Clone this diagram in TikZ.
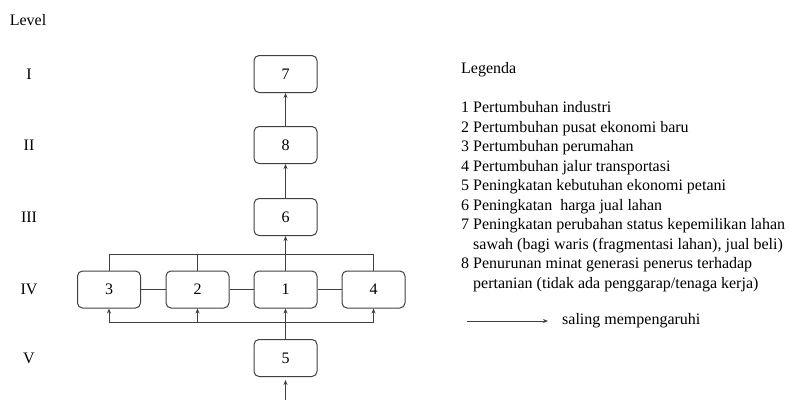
\documentclass[tikz,border=0pt]{standalone}
\usepackage{fontspec}
\setmainfont{Liberation Serif}
\usetikzlibrary{arrows.meta}

\begin{document}
\begin{tikzpicture}[x=1pt,y=-1pt,>={Stealth[length=5pt,width=4pt]},
    teks/.style={font=\fontsize{16}{19.5}\selectfont},
    faktor/.style={teks,draw=black!75,line width=1pt,rounded corners=5pt,
        minimum width=63pt,minimum height=37pt},
    garis/.style={draw=black!75,line width=1pt}]
    \useasboundingbox (0,0) rectangle (789,400);
    % tingkat
    \node[teks] (level) at (28,20) {Level};
    \foreach \lv/\y in {I/74,II/145,III/217,IV/289.5,V/358}
        \node[teks] (lv\lv) at (29,\y) {\lv};
    % kotak faktor
    \node[faktor] (n7) at (285.5,74) {7};
    \node[faktor] (n8) at (285.5,145) {8};
    \node[faktor] (n6) at (285.5,217) {6};
    \node[faktor] (n3) at (109,289.5) {3};
    \node[faktor] (n2) at (197.5,289.5) {2};
    \node[faktor] (n1) at (285.5,289.5) {1};
    \node[faktor] (n4) at (373.5,289.5) {4};
    \node[faktor] (n5) at (285.5,358) {5};
    \coordinate (atas) at (0,254);
    \coordinate (bawah) at (0,322.5);
    \coordinate (masuk) at (285.5,400);
    % hubungan
    \draw[garis,->] (n8) -- (n7);
    \draw[garis,->] (n6) -- (n8);
    \draw[garis,->] (n1) -- (n6);
    \draw[garis,->] (n5) -- (n1);
    \draw[garis,->,shorten >=3pt] (masuk) -- (n5);
    \draw[garis] (n3) -- (n2) (n2) -- (n1) (n1) -- (n4);
    \draw[garis] (n3.north) -- (n3.north |- atas) -- (n4.north |- atas) -- (n4.north);
    \draw[garis] (n2.north) -- (n2.north |- atas);
    \draw[garis] (n3.south |- bawah) -- (n4.south |- bawah);
    \foreach \k in {n3,n2,n4}
        \draw[garis,->] (\k.south |- bawah) -- (\k.south);
    % legenda
    \node[teks,anchor=north west,align=left,inner sep=0pt] (legenda) at (461,62.5) {Legenda\\[19.5pt]
        1 Pertumbuhan industri\\
        2 Pertumbuhan pusat ekonomi baru\\
        3 Pertumbuhan perumahan\\
        4 Pertumbuhan jalur transportasi\\
        5 Peningkatan kebutuhan ekonomi petani\\
        6 Peningkatan~ harga jual lahan\\
        7 Peningkatan perubahan status kepemilikan lahan\\
        \hspace*{12pt}sawah (bagi waris (fragmentasi lahan), jual beli)\\
        8 Penurunan minat generasi penerus terhadap\\
        \hspace*{12pt}pertanian (tidak ada penggarap/tenaga kerja)};
    \coordinate (panah) at (467,321);
    \node[teks,anchor=west,inner sep=6pt] (saling) at (556,321) {saling mempengaruhi};
    \draw[garis,->] (panah) -- ([xshift=-8pt]saling.west);
\end{tikzpicture}
\end{document}
